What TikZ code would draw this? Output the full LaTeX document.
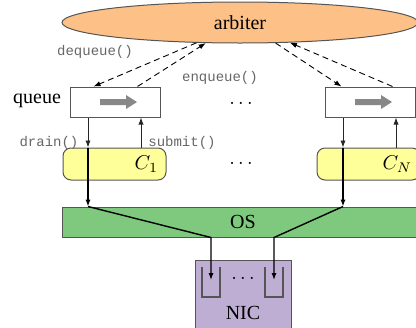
\documentclass[tikz,border=0pt]{standalone}
\usepackage{fontspec}
\setmainfont{Liberation Serif}
\setmonofont{Liberation Mono}
\usetikzlibrary{shapes.geometric,arrows.meta,calc}
\definecolor{arbfill}{HTML}{FDC086}
\definecolor{cfill}{HTML}{FFFF99}
\definecolor{osfill}{HTML}{7FC97F}
\definecolor{nicfill}{HTML}{BEAED4}
\definecolor{edgecol}{HTML}{555555}
\definecolor{labcol}{HTML}{666666}
\definecolor{arrgray}{HTML}{888888}
\begin{document}
\begin{tikzpicture}[x=0.5pt,y=-0.5pt,
  tip/.style={-{Latex[length=3.5pt,width=2.6pt]}},
  qbox/.style={draw=edgecol,line width=0.5pt,fill=white,minimum width=45pt,minimum height=15pt,inner sep=0pt},
  cbox/.style={draw=edgecol,line width=0.5pt,fill=cfill,rounded corners=4pt,text width=43.5pt,inner xsep=4pt,inner ysep=0pt,align=right,minimum height=16pt},
  osbox/.style={draw=edgecol,line width=0.5pt,fill=osfill,minimum width=181pt,minimum height=15pt,inner sep=0pt},
  nicbox/.style={draw=edgecol,line width=0.5pt,fill=nicfill,minimum width=48pt,minimum height=53pt,inner sep=0pt},
  fn/.style={font=\fontsize{7}{8}\selectfont\ttfamily,text=labcol,inner sep=0pt},
  thinarr/.style={tip,line width=0.45pt,draw=black!85},
  thickline/.style={line width=0.7pt,draw=black},
  dasharr/.style={tip,line width=0.45pt,dash pattern=on 3pt off 2pt},
  binline/.style={draw=edgecol,line width=0.6pt},
  garrow/.style={fill=arrgray}]
\useasboundingbox (0,0) rectangle (416,327);
\clip (0,0) rectangle (416,327);

% arbiter
\node[ellipse,draw=edgecol,line width=0.5pt,fill=arbfill,minimum width=178pt,minimum height=20.5pt,inner sep=0pt] (arb) at (240,22.5) {arbiter};

% queues
\node[qbox] (q1) at (115,102) {};
\node[qbox] (q2) at (370,102) {};
\foreach \q in {q1,q2}{
  \fill[garrow] ($(\q.center)+(-15,-3)$) -- ++(26,0) -- ++(0,-4) -- ++(11,7) -- ++(-11,7) -- ++(0,-4) -- ++(-26,0) -- cycle;
}
\node (qlab) at (37,101) {queue};
\node[inner sep=0pt] (qdots) at (241,103) {$\ldots$};

% clients
\node[cbox] (c1) at (114.5,164) {$C_1$};
\node[cbox] (cn) at (368.5,164) {$C_N$};
\node[inner sep=0pt] (cdots) at (241,163) {$\ldots$};

% OS and NIC
\node[osbox] (os) at (243,222) {OS};
\node[nicbox] (nic) at (243,313) {NIC};
\draw[binline] (202,267) -- (202,297) -- (220,297) -- (220,267);
\draw[binline] (265,267) -- (265,297) -- (283,297) -- (283,267);
\node[inner sep=0pt] (ndots) at (243,278) {$\ldots$};
\coordinate (b1) at (211,280);
\coordinate (b2) at (274,280);

% dashed arbiter connectors
\draw[dasharr] (arb.205) -- ($(q1.north west)+(24,0)$);
\draw[dasharr] ($(q1.north west)+(68,0)$) -- (arb.211);
\draw[dasharr] (arb.330) -- ($(q2.north west)+(17,0)$);
\draw[dasharr] ($(q2.north west)+(68,0)$) -- (arb.338);
\node[fn] (deq) at (95,52) {dequeue()};
\node[fn] (enq) at (220,78) {enqueue()};

% drain / submit
\coordinate (d1) at ($(q1.south)+(-27,0)$);
\coordinate (u1) at ($(q1.south)+(26,0)$);
\coordinate (d2) at ($(q2.south)+(-27,0)$);
\coordinate (u2) at ($(q2.south)+(26,0)$);
\draw[thinarr] (d1) -- (d1 |- c1.north);
\draw[thinarr] (u1 |- c1.north) -- (u1);
\draw[thinarr] (d2) -- (d2 |- cn.north);
\draw[thinarr] (u2 |- cn.north) -- (u2);
\node[fn] (drn) at (49,143) {drain()};
\node[fn] (sub) at (182,143) {submit()};

% paths to OS and NIC
\draw[thickline,tip] (d1 |- c1.north) -- (d1 |- os.north);
\draw[thickline,tip] (d2 |- cn.north) -- (d2 |- os.north);
\draw[thickline,tip] (d1 |- os.north) -- (b1 |- os.south) -- (b1);
\draw[thickline,tip] (d2 |- os.north) -- (b2 |- os.south) -- (b2);
\end{tikzpicture}
\end{document}
